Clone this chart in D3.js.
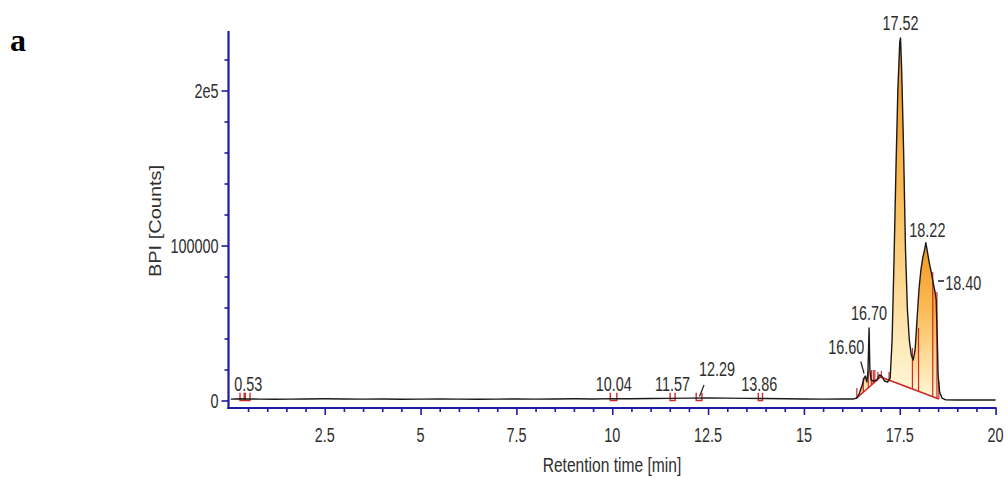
<!DOCTYPE html>
<html>
<head>
<meta charset="utf-8">
<script src="https://cdn.jsdelivr.net/npm/d3@7"></script>
<style>
  html, body { margin: 0; padding: 0; background: #fff; }
  svg text { font-family: "Liberation Sans", Arial, sans-serif; fill: #2e2e2e; }
</style>
</head>
<body>
<svg id="chart" width="1008" height="479"></svg>
<script>
// ---------------- DATA ----------------
// chromatogram trace: retention time (min) and BPI counts
const traceTimes = [
  0.05, 0.3, 0.5, 0.8, 1.2, 1.6, 2.0, 2.5, 3.0, 3.5, 4.0, 4.5, 5.0, 5.5, 6.0, 6.5, 7.0, 7.5,
  8.0, 8.5, 9.0, 9.5, 10.0, 10.5, 11.0, 11.5, 12.0, 12.5, 13.0, 13.5, 14.0, 14.5, 15.0, 15.5,
  16.0, 16.3, 16.38, 16.45, 16.52, 16.57, 16.60, 16.64, 16.67, 16.70, 16.72, 16.75, 16.82,
  16.90, 16.97, 17.03, 17.10, 17.18, 17.25, 17.30, 17.35, 17.40, 17.45, 17.50, 17.52, 17.55,
  17.60, 17.65, 17.70, 17.75, 17.80, 17.85, 17.90, 17.95, 18.00, 18.05, 18.10, 18.15, 18.18,
  18.22, 18.27, 18.32, 18.38, 18.42, 18.45, 18.48, 18.50, 18.54, 18.60, 18.70, 19.0, 19.5, 20.0
];
const traceValues = [
  900, 1100, 1000, 900, 800, 900, 1000, 1100, 1000, 900, 1000, 800, 900, 1000, 900, 800, 900, 1000,
  900, 1000, 1100, 1000, 1200, 1100, 1300, 1400, 1500, 1600, 1500, 1400, 1300, 1100, 1000, 900,
  1000, 1000, 1600, 4800, 10000, 14500, 15800, 12000, 18400, 46800, 19700, 13200, 12600,
  13200, 16500, 15800, 12600, 11900, 14500, 39000, 90600, 148700, 200300, 231300, 233900, 213200,
  161600, 97100, 58400, 39000, 29400, 26100, 32600, 51900, 71300, 84000, 92000, 97500, 101800,
  96000, 89000, 83000, 75000, 70000, 65000, 39000, 16500, 5500, 1600, 400, 300, 350, 300
];

// integration baseline (red)
const baselineTimes = [16.38, 17.0, 18.52];
const baselineValues = [1600, 15200, 1000];

// integrated segments (between drop lines)
const segmentStarts = [16.38, 16.55, 16.68, 16.76, 16.85, 17.0, 17.22, 17.83, 17.99, 18.36, 18.47];
const segmentEnds   = [16.55, 16.68, 16.76, 16.85, 17.0, 17.22, 17.83, 17.99, 18.36, 18.47, 18.52];

// drop-line markers: time and top value
const dropTimes = [16.38, 16.55, 16.68, 16.76, 16.81, 16.85, 16.93, 17.02, 17.22, 17.83, 17.99, 18.36, 18.47, 18.52];
const dropTops  = [8000, 14500, 19000, 19700, 19700, 19700, 18500, 19000, 18400, 33900, 46800, 82900, 70000, 12000];

// small baseline peaks marked with U-shaped start/end ticks
const uStarts = [0.29, 0.43, 9.95, 11.51, 12.19, 13.81];
const uEnds   = [0.40, 0.55, 10.12, 11.64, 12.34, 13.92];
const uHeight = 5000;

// peak labels
const labelTimes = [0.53, 10.04, 11.57, 12.29, 13.86, 16.60, 16.70, 17.52, 18.22, 18.40];
const labelTexts = ["0.53", "10.04", "11.57", "12.29", "13.86", "16.60", "16.70", "17.52", "18.22", "18.40"];

// axes
const xMajorTicks = [2.5, 5, 7.5, 10, 12.5, 15, 17.5, 20];
const xMajorLabels = ["2.5", "5", "7.5", "10", "12.5", "15", "17.5", "20"];
const yMajorTicks = [0, 100000, 200000];
const yMajorLabels = ["0", "100000", "2e5"];

// ---------------- LAYOUT ----------------
const labelLayout = [ // dx, baseline y (px), anchor
  {dx: -1, y: 391, a: "middle"},
  {dx: 0, y: 391, a: "middle"},
  {dx: 0, y: 391, a: "middle"},
  {dx: 17, y: 376, a: "middle"},
  {dx: -1, y: 391, a: "middle"},
  {dx: -19, y: 354, a: "middle"},
  {dx: 0, y: 320, a: "middle"},
  {dx: 0, y: 30, a: "middle"},
  {dx: 0, y: 237, a: "middle"},
  {dx: 11, y: 290, a: "start"}
];
const SQ = 0.74;   // horizontal squeeze of the original rendering
const FS = 19.5;   // label font size

const svg = d3.select("#chart");
const x = d3.scaleLinear().domain([0, 20]).range([228.9, 995.6]);
const y = d3.scaleLinear().domain([0, 238400]).range([400.5, 31]);
const axisY = 408;
const axisX = 228.5;
const axisColor = "#1b1ba3";
const red = "#cc2a2a";

function txt(px, py, str, size, anchor, sq) {
  return svg.append("text")
    .attr("transform", `translate(${px},${py}) scale(${sq},1)`)
    .attr("text-anchor", anchor).attr("font-size", size).text(str);
}

// trace data
const trace = traceTimes.map((t, i) => ({t, v: traceValues[i]}));
function interp(ts, vs, t) {
  for (let i = 0; i < ts.length - 1; i++) {
    if (t >= ts[i] && t <= ts[i + 1]) {
      const f = (t - ts[i]) / (ts[i + 1] - ts[i]);
      return vs[i] + f * (vs[i + 1] - vs[i]);
    }
  }
  return t < ts[0] ? vs[0] : vs[vs.length - 1];
}
const curveAt = t => interp(traceTimes, traceValues, t);
const baseAt = t => interp(baselineTimes, baselineValues, t);

// gradient
const defs = svg.append("defs");
const grad = defs.append("linearGradient").attr("id", "pk")
  .attr("x1", 0).attr("y1", 0).attr("x2", 0).attr("y2", 1);
grad.append("stop").attr("offset", "0%").attr("stop-color", "#f29520");
grad.append("stop").attr("offset", "45%").attr("stop-color", "#fbbd58");
grad.append("stop").attr("offset", "100%").attr("stop-color", "#fff7d6");

// filled segments
const area = d3.area().x(d => x(d.t)).y0(d => y(baseAt(d.t))).y1(d => y(d.v));
segmentStarts.forEach((s, i) => {
  const e = segmentEnds[i];
  const pts = [{t: s, v: curveAt(s)}]
    .concat(trace.filter(d => d.t > s && d.t < e))
    .concat([{t: e, v: curveAt(e)}]);
  svg.append("path").attr("d", area(pts)).attr("fill", "url(#pk)").attr("stroke", "none");
});

// red baseline
svg.append("path")
  .attr("d", d3.line().x(d => x(d)).y((d, i) => y(baselineValues[i]))(baselineTimes))
  .attr("fill", "none").attr("stroke", red).attr("stroke-width", 1.5);

// drop lines
dropTimes.forEach((t, i) => {
  svg.append("line")
    .attr("x1", x(t)).attr("x2", x(t))
    .attr("y1", y(baseAt(t))).attr("y2", y(dropTops[i]))
    .attr("stroke", red).attr("stroke-width", 1.2);
});

// U markers
uStarts.forEach((s, i) => {
  const e = uEnds[i];
  svg.append("path")
    .attr("d", `M${x(s)},${y(uHeight)}V${y(0)}H${x(e)}V${y(uHeight)}`)
    .attr("fill", "none").attr("stroke", red).attr("stroke-width", 1.4);
});

// trace line
svg.append("path")
  .attr("d", d3.line().x(d => x(d.t)).y(d => y(d.v))(trace))
  .attr("fill", "none").attr("stroke", "#1a1a1a").attr("stroke-width", 1.4)
  .attr("stroke-linejoin", "round");

// peak labels
labelTimes.forEach((t, i) => {
  const L = labelLayout[i];
  txt(x(t) + L.dx, L.y, labelTexts[i], FS, L.a, SQ);
});
// leaders
svg.append("line").attr("x1", x(12.29) - 0.5).attr("y1", 396.5).attr("x2", x(12.29) + 4).attr("y2", 385)
  .attr("stroke", "#222").attr("stroke-width", 1.2);
svg.append("line").attr("x1", x(16.60) - 4.5).attr("y1", 361.5).attr("x2", x(16.60) - 1.2).attr("y2", 373.5)
  .attr("stroke", "#222").attr("stroke-width", 1.2);
svg.append("line").attr("x1", x(18.40) + 3.8).attr("y1", 281).attr("x2", x(18.40) + 9.8).attr("y2", 281)
  .attr("stroke", "#222").attr("stroke-width", 1.6);

// axes: ticks via d3 axis generators
const gx = svg.append("g").attr("transform", `translate(0,${axisY})`);
gx.call(d3.axisBottom(x).tickValues(d3.range(0.5, 20, 0.5).filter(v => v % 2.5 !== 0)).tickSize(4).tickFormat(""));
gx.select(".domain").remove();
const gx2 = svg.append("g").attr("transform", `translate(0,${axisY})`);
gx2.call(d3.axisBottom(x).tickValues(xMajorTicks).tickSize(7).tickFormat(""));
gx2.select(".domain").remove();

const gy = svg.append("g").attr("transform", `translate(${axisX},0)`);
gy.call(d3.axisLeft(y).tickValues(d3.range(20000, 238400, 20000).filter(v => v % 100000 !== 0)).tickSize(4).tickFormat(""));
gy.select(".domain").remove();
const gy2 = svg.append("g").attr("transform", `translate(${axisX},0)`);
gy2.call(d3.axisLeft(y).tickValues(yMajorTicks).tickSize(7).tickFormat(""));
gy2.select(".domain").remove();
svg.selectAll(".tick line").attr("stroke", axisColor).attr("stroke-width", 1.6);

// tick labels
xMajorTicks.forEach((v, i) => txt(x(v), 442, xMajorLabels[i], FS, "middle", SQ));
yMajorTicks.forEach((v, i) => txt(axisX - 10, y(v) + 7, yMajorLabels[i], FS, "end", SQ));

// axis lines
svg.append("line").attr("x1", axisX).attr("x2", axisX).attr("y1", 31).attr("y2", axisY + 1)
  .attr("stroke", axisColor).attr("stroke-width", 2.2);
svg.append("line").attr("x1", axisX - 1.1).attr("x2", 996.5).attr("y1", axisY).attr("y2", axisY)
  .attr("stroke", axisColor).attr("stroke-width", 2.2);

// titles
txt(612, 472, "Retention time [min]", 20, "middle", 0.78);
svg.append("text").attr("transform", "translate(161,221) rotate(-90) scale(1,0.78)")
  .attr("text-anchor", "middle").attr("font-size", 20).text("BPI [Counts]");
svg.append("text").attr("x", 10).attr("y", 51).attr("font-size", 32).attr("font-weight", "bold")
  .style("font-family", '"Liberation Serif", "Times New Roman", serif').style("fill", "#000").text("a");
</script>
</body>
</html>
